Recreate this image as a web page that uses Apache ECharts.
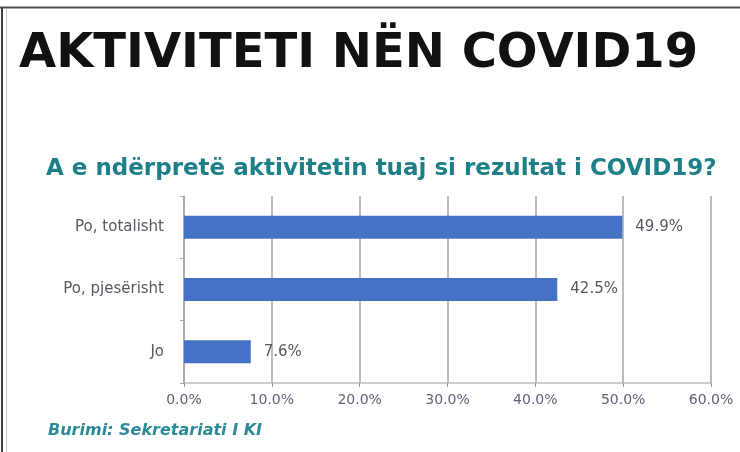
<!DOCTYPE html>
<html>
<head>
<meta charset="utf-8">
<script src="https://cdn.jsdelivr.net/npm/echarts@6/dist/echarts.min.js"></script>
<style>
  html, body { margin: 0; padding: 0; background: #fff; }
  #chart { width: 740px; height: 452px; }
</style>
</head>
<body>
<div id="chart"></div>
<script>
var categories = ['Po, totalisht', 'Po, pjesërisht', 'Jo'];
var shares = [49.9, 42.5, 7.6];
var axisMax = 60;
var axisStep = 10;

var chart = echarts.init(document.getElementById('chart'));
var font = 'DejaVu Sans';

var option = {
	backgroundColor: '#ffffff',
	animation: false,
	title: [
		{
			text: 'AKTIVITETI NËN COVID19',
			left: 19, top: 31, padding: 0,
			textStyle: { fontFamily: font, fontWeight: 'bold', fontSize: 48, color: '#111' }
		},
		{
			text: 'A e ndërpretë aktivitetin tuaj si rezultat i COVID19?',
			left: 46, top: 158, padding: 0,
			textStyle: { fontFamily: font, fontWeight: 'bold', fontSize: 23, color: '#1d7f87' }
		},
		{
			text: 'Burimi: Sekretariati I KI',
			left: 48, top: 423, padding: 0,
			textStyle: { fontFamily: font, fontWeight: 'bold', fontStyle: 'italic', fontSize: 16, color: '#2a8a96' }
		}
	],
	graphic: [
		{ type: 'line', shape: { x1: 0, y1: 7.5, x2: 740, y2: 7.5 }, style: { stroke: '#505050', lineWidth: 2 } },
		{ type: 'line', shape: { x1: 2, y1: 7, x2: 2, y2: 452 }, style: { stroke: '#404040', lineWidth: 2 } },
		{ type: 'line', shape: { x1: 6.5, y1: 9, x2: 6.5, y2: 452 }, style: { stroke: '#c8c8c8', lineWidth: 1 } }
	],
	grid: { left: 184, right: 29, top: 196, bottom: 69 },
	xAxis: {
		type: 'value',
		min: 0, max: axisMax, interval: axisStep,
		axisLine: { show: true, lineStyle: { color: '#bfbfbf', width: 1.5 } },
		axisTick: { show: true, length: 4, lineStyle: { color: '#9a9a9a' } },
		splitLine: { show: true, lineStyle: { color: '#a6a6a6', width: 1.5 } },
		axisLabel: {
			margin: 10,
			fontFamily: font, fontSize: 14, color: '#66607a',
			formatter: function(v) { return v.toFixed(1) + '%'; }
		}
	},
	yAxis: {
		type: 'category',
		inverse: true,
		data: categories,
		axisLine: { show: true, lineStyle: { color: '#a6a6a6', width: 1.5 } },
		axisTick: { show: true, length: 4, lineStyle: { color: '#a6a6a6' } },
		axisLabel: { margin: 20, fontFamily: font, fontSize: 15, color: '#5a5660' }
	},
	series: [{
		type: 'bar',
		data: shares,
		barWidth: '37%',
		itemStyle: { color: '#4472c4' },
		label: {
			show: true, position: 'right', distance: 13,
			fontFamily: font, fontSize: 15, color: '#5a5660',
			formatter: function(p) { return p.value.toFixed(1) + '%'; }
		}
	}]
};

chart.setOption(option);
</script>
</body>
</html>
